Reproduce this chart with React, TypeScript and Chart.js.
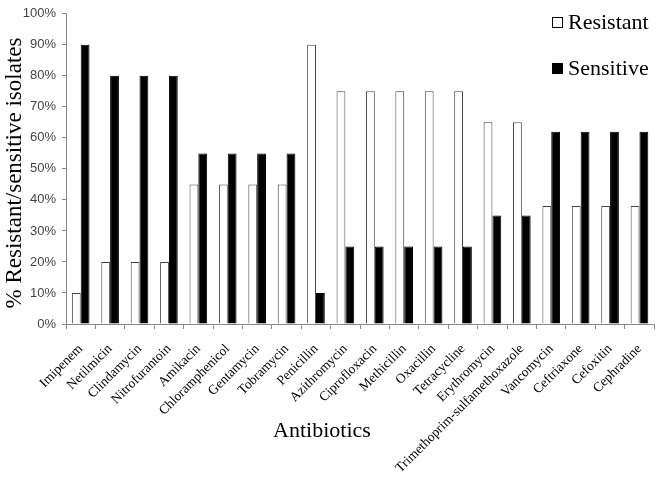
import React, { useEffect, useRef } from "react";
import { Chart, registerables } from "chart.js";

Chart.register(...registerables);

const categories = [
  "Imipenem", "Netilmicin", "Clindamycin", "Nitrofurantoin", "Amikacin",
  "Chloramphenicol", "Gentamycin", "Tobramycin", "Penicillin", "Azithromycin",
  "Ciprofloxacin", "Methicillin", "Oxacillin", "Tetracycline", "Erythromycin",
  "Trimethoprim-sulfamethoxazole", "Vancomycin", "Ceftriaxone", "Cefoxitin", "Cephradine",
];
const resistant = [10, 20, 20, 20, 45, 45, 45, 45, 90, 75, 75, 75, 75, 75, 65, 65, 38, 38, 38, 38];
const sensitive = [90, 80, 80, 80, 55, 55, 55, 55, 10, 25, 25, 25, 25, 25, 35, 35, 62, 62, 62, 62];
const seriesNames = ["Resistant", "Sensitive"];
const yTitle = "% Resistant/sensitive isolates";
const xTitle = "Antibiotics";

const SERIF = "'Liberation Serif', 'Times New Roman', serif";
const SANS = "'Liberation Sans', Arial, sans-serif";

const overlayPlugin = {
  id: "overlay",
  afterDraw(chart: any) {
    const ctx = chart.ctx;
    ctx.save();
    // y title
    ctx.fillStyle = "#000";
    ctx.font = `23px ${SERIF}`;
    ctx.textAlign = "center";
    ctx.textBaseline = "middle";
    ctx.translate(15, 173);
    ctx.rotate(-Math.PI / 2);
    ctx.fillText(yTitle, 0, 0);
    ctx.restore();

    ctx.save();
    ctx.fillStyle = "#000";
    ctx.font = `22px ${SERIF}`;
    ctx.textAlign = "center";
    ctx.textBaseline = "alphabetic";
    ctx.fillText(xTitle, 322, 437);
    ctx.restore();

    // legend
    ctx.save();
    const items = [
      { label: seriesNames[0], fill: "#ffffff", y: 22 },
      { label: seriesNames[1], fill: "#000000", y: 68 },
    ];
    ctx.font = `22px ${SERIF}`;
    ctx.textAlign = "left";
    ctx.textBaseline = "middle";
    for (const it of items) {
      ctx.fillStyle = it.fill;
      ctx.fillRect(552, it.y - 5, 11, 11);
      ctx.strokeStyle = "#000";
      ctx.lineWidth = 1;
      ctx.strokeRect(552.5, it.y - 4.5, 10, 10);
      ctx.fillStyle = "#000";
      ctx.fillText(it.label, 568, it.y + 1);
    }
    ctx.restore();
  },
};

export default function App() {
  const ref = useRef<HTMLCanvasElement>(null);
  useEffect(() => {
    if (!ref.current) return;
    const chart = new Chart(ref.current, {
      type: "bar",
      data: {
        labels: categories,
        datasets: [
          {
            label: seriesNames[0],
            data: resistant,
            backgroundColor: "#ffffff",
            borderColor: "#444444",
            borderWidth: 1,
            categoryPercentage: 0.6,
            barPercentage: 1.0,
          },
          {
            label: seriesNames[1],
            data: sensitive,
            backgroundColor: "#000000",
            borderColor: "#000000",
            borderWidth: 1,
            categoryPercentage: 0.6,
            barPercentage: 1.0,
          },
        ],
      },
      options: {
        responsive: false,
        animation: false,
        layout: { padding: { left: 0, right: 3, top: 7, bottom: 0 } },
        plugins: {
          legend: { display: false },
          tooltip: { enabled: false },
        },
        scales: {
          x: {
            afterFit: (s: any) => {
              s.height = 156;
            },
            grid: {
              display: true,
              drawOnChartArea: false,
              offset: true,
              tickLength: 5,
              color: "#888888",
            },
            border: { color: "#888888", width: 1 },
            ticks: {
              autoSkip: false,
              maxRotation: 45,
              minRotation: 45,
              color: "#000",
              font: { family: SERIF, size: 13.5 },
              padding: 12,
            },
          },
          y: {
            min: 0,
            max: 100,
            afterFit: (s: any) => {
              s.width = 66;
            },
            grid: {
              display: true,
              drawOnChartArea: false,
              tickLength: 4,
              color: "#888888",
            },
            border: { color: "#888888", width: 1 },
            ticks: {
              stepSize: 10,
              color: "#444",
              font: { family: SANS, size: 13 },
              padding: 6,
              callback: (v: any) => `${v}%`,
            },
          },
        },
      },
      plugins: [overlayPlugin],
    });
    return () => chart.destroy();
  }, []);
  return (
    <div style={{ position: "absolute", left: 0, top: 0, width: 663, height: 480, background: "#fff" }}>
      <canvas ref={ref} width={663} height={480} />
    </div>
  );
}
